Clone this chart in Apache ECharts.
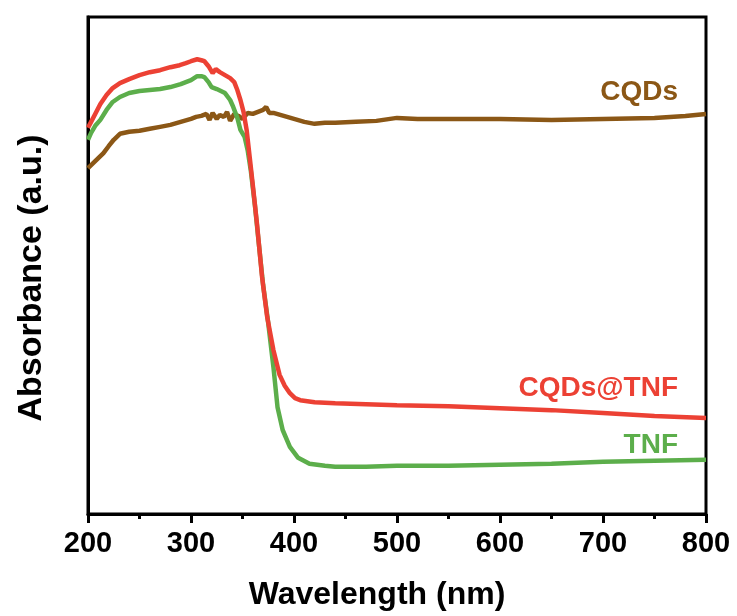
<!DOCTYPE html>
<html>
<head>
<meta charset="utf-8">
<script src="https://cdn.jsdelivr.net/npm/echarts@6/dist/echarts.min.js"></script>
<style>
html,body{margin:0;padding:0;background:#fff;}
#chart{width:737px;height:616px;}
</style>
</head>
<body>
<div id="chart"></div>
<script>
// Wavelength (nm) and absorbance (a.u., arbitrary scale)
const cqdsNm  = [200,205,210,215,220,225,231,240,250,260,270,280,290,300,305,310,315,318,321,325,328,332,335,338,342,346,350,355,360,365,370,373,376,380,390,400,410,420,430,440,460,480,500,520,550,600,650,700,750,780,800];
const cqdsAbs = [69.6,70.6,71.6,72.6,74.0,75.3,76.5,76.9,77.1,77.5,77.9,78.3,78.9,79.5,79.9,80.1,80.5,79.3,80.7,79.5,80.3,79.9,80.9,79.1,80.5,80.1,79.5,80.7,80.5,80.9,81.3,81.9,80.7,80.7,80.1,79.5,78.9,78.5,78.7,78.7,78.9,79.1,79.7,79.5,79.5,79.5,79.3,79.5,79.7,80.1,80.5];

const cqdsTnfNm  = [200,203,207,212,218,224,231,240,250,260,270,280,289,295,300,306,310,313,317,321,324,328,333,338,342,345,348,351,354,357,360,364,369,374,380,386,391,396,401,406,420,440,470,500,550,600,650,700,750,800];
const cqdsTnfAbs = [77.7,78.9,80.5,82.5,84.3,85.7,86.7,87.5,88.3,88.9,89.3,89.9,90.3,90.7,91.1,91.5,91.3,91.1,90.1,88.7,89.5,88.9,88.3,87.7,86.9,85.3,83.3,80.9,77.3,71.8,66.2,58.5,47.7,39.6,33.0,28.0,25.8,24.3,23.3,22.9,22.5,22.3,22.1,21.9,21.7,21.3,20.9,20.3,19.7,19.3];

const tnfNm  = [200,203,207,212,218,224,231,240,250,260,270,280,290,300,306,310,313,317,320,325,333,338,341,345,348,352,355,358,362,366,370,375,380,384,389,396,404,415,430,440,470,500,550,600,650,700,750,800];
const tnfAbs = [75.3,76.7,78.1,79.3,81.3,82.9,83.9,84.7,85.1,85.3,85.5,85.9,86.5,87.3,88.1,88.1,87.9,86.9,85.9,85.5,84.7,83.3,81.9,79.7,77.3,75.9,73.2,69.2,62.2,54.1,46.1,38.4,29.6,21.5,16.9,13.5,11.3,10.1,9.7,9.5,9.5,9.7,9.7,9.9,10.1,10.5,10.7,10.9];

const xTicks = [200,300,400,500,600,700,800];
const seriesNames = ['CQDs','CQDs@TNF','TNF'];

const FONT = '"Liberation Sans", Arial, sans-serif';
const colBrown = '#8B5716';
const colRed = '#EC4134';
const colGreen = '#5CAE4B';

function pairs(xs, ys){ return xs.map((x,i)=>[x, ys[i]]); }

const chart = echarts.init(document.getElementById('chart'), null, {renderer:'canvas'});
chart.setOption({
  animation:false,
  backgroundColor:'#fff',
  grid:{left:88,right:31,top:17,bottom:102,show:true,borderColor:'#000',borderWidth:3,backgroundColor:'transparent'},
  xAxis:{
    type:'value', min:xTicks[0], max:xTicks[xTicks.length-1], interval:100,
    axisLine:{show:true,lineStyle:{color:'#000',width:3}},
    axisTick:{show:true,inside:false,length:9,lineStyle:{color:'#000',width:3}},
    minorTick:{show:true,splitNumber:2,length:5,lineStyle:{color:'#000',width:3}},
    splitLine:{show:false},
    axisLabel:{color:'#000',fontSize:29,fontWeight:'bold',fontFamily:FONT,margin:15}
  },
  yAxis:{
    type:'value', min:0, max:100,
    axisLine:{show:true,lineStyle:{color:'#000',width:3}},
    axisTick:{show:false}, axisLabel:{show:false}, splitLine:{show:false}
  },
  series:[
    {name:seriesNames[0],type:'line',data:pairs(cqdsNm,cqdsAbs),showSymbol:false,symbol:'none',lineStyle:{color:colBrown,width:4.5},z:2},
    {name:seriesNames[2],type:'line',data:pairs(tnfNm,tnfAbs),showSymbol:false,symbol:'none',lineStyle:{color:colGreen,width:4.5},z:3},
    {name:seriesNames[1],type:'line',data:pairs(cqdsTnfNm,cqdsTnfAbs),showSymbol:false,symbol:'none',lineStyle:{color:colRed,width:4.5},z:4}
  ],
  graphic:[
    {type:'text',x:678,y:92,style:{text:seriesNames[0],fill:colBrown,font:'bold 28px '+FONT,textAlign:'right',textVerticalAlign:'middle'}},
    {type:'text',x:678,y:388,style:{text:seriesNames[1],fill:colRed,font:'bold 28px '+FONT,textAlign:'right',textVerticalAlign:'middle'}},
    {type:'text',x:678,y:445,style:{text:seriesNames[2],fill:colGreen,font:'bold 28px '+FONT,textAlign:'right',textVerticalAlign:'middle'}},
    {type:'text',x:377,y:595,style:{text:'Wavelength (nm)',fill:'#000',font:'bold 32px '+FONT,textAlign:'center',textVerticalAlign:'middle'}},
    {type:'text',x:32,y:278,rotation:Math.PI/2,style:{text:'Absorbance (a.u.)',fill:'#000',font:'bold 34px '+FONT,textAlign:'center',textVerticalAlign:'middle'}}
  ]
});
</script>
</body>
</html>
